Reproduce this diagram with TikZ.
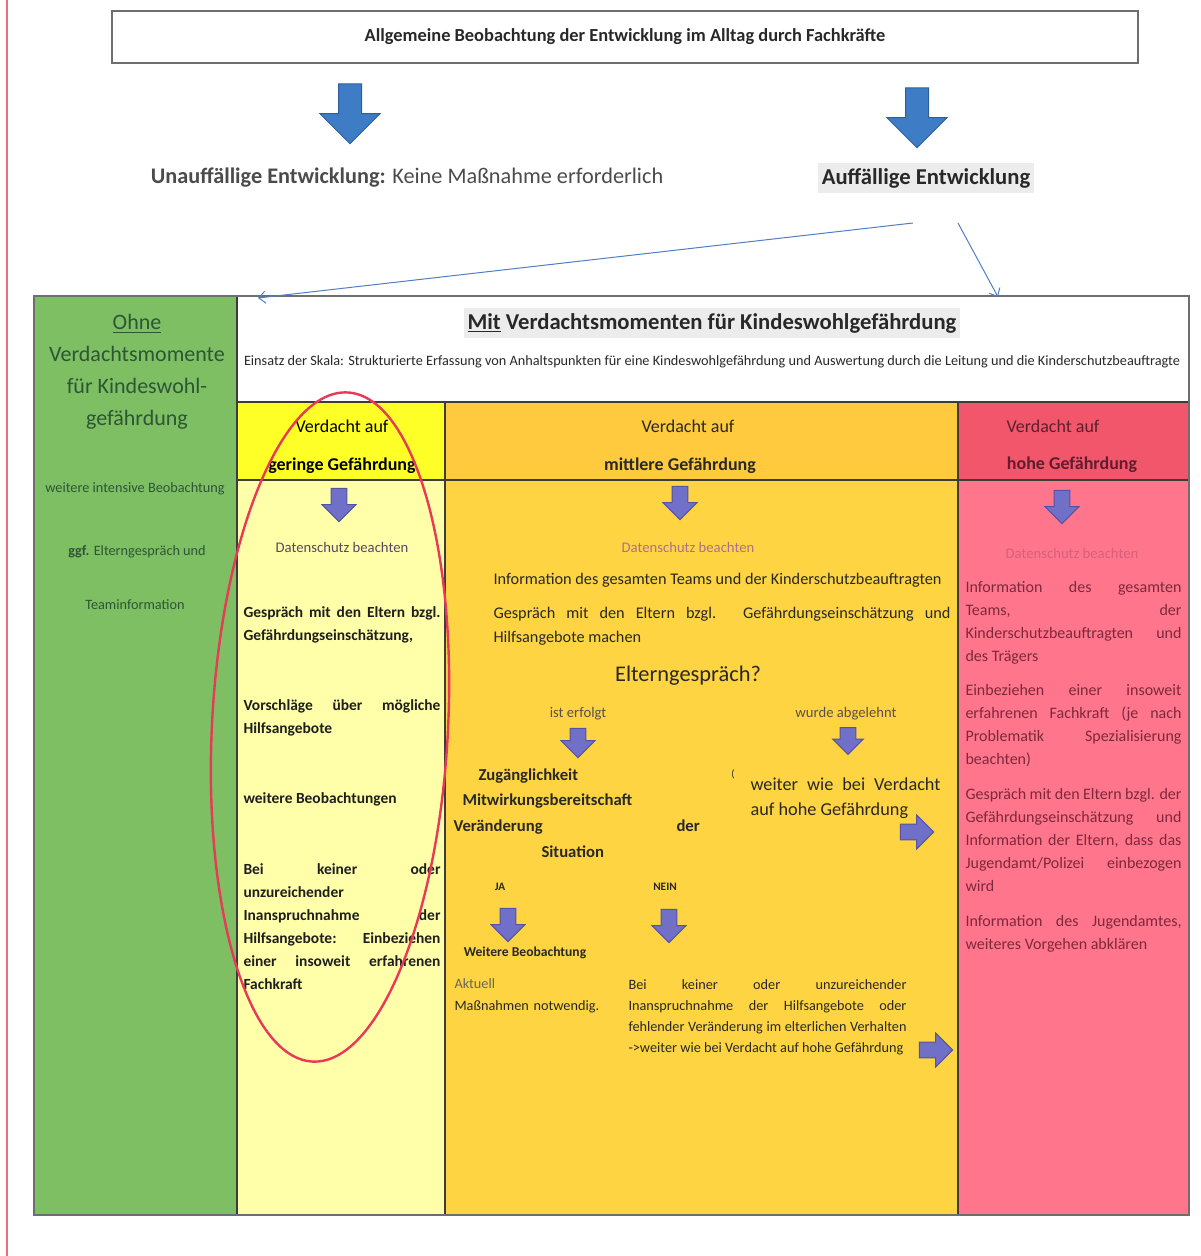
\documentclass[tikz,border=0pt]{standalone}
\usepackage{fontspec}
\setmainfont{Carlito}
\usetikzlibrary{shapes.arrows,arrows.meta}
\tolerance=9999
\hbadness=10000

\tikzset{every picture/.style={line width=0.75pt}}
\tikzset{
  bigarr/.style={single arrow, shape border rotate=270, inner sep=8.25pt, minimum height=45pt, single arrow head extend=14pt, draw={rgb, 255:red, 46; green, 94; blue, 160}, fill={rgb, 255:red, 62; green, 124; blue, 198}},
  purarr/.style={single arrow, inner sep=5.6pt, minimum height=25pt, single arrow head extend=6.75pt, draw={rgb, 255:red, 84; green, 84; blue, 160}, fill={rgb, 255:red, 112; green, 112; blue, 200}},
  purdown/.style={purarr, shape border rotate=270},
  thinarr/.style={-{Straight Barb[length=5pt,width=9pt]}, color={rgb, 255:red, 80; green, 125; blue, 195}},
  lbl/.style={inner sep=0pt, text={rgb, 255:red, 40; green, 40; blue, 40}},
  grntxt/.style={inner sep=0pt, text={rgb, 255:red, 45; green, 85; blue, 55}},
  redtxt/.style={anchor=base west, inner sep=0pt, text width=162pt, align=justify, text={rgb, 255:red, 125; green, 40; blue, 60}, font=\fontsize{12}{17.25}\selectfont},
  yeltxt/.style={anchor=base west, inner sep=0pt, text width=147.75pt, align=justify, text={rgb, 255:red, 30; green, 30; blue, 30}, font=\bfseries\fontsize{11.6}{17.25}\selectfont},
  orgtxt/.style={anchor=base west, inner sep=0pt, align=justify, text={rgb, 255:red, 40; green, 40; blue, 40}},
  hdtxt/.style={inner sep=0pt, font=\fontsize{13.5}{16}\selectfont},
  grid/.style={color={rgb, 255:red, 60; green, 60; blue, 60}, line width=0.9pt}
}

\begin{document}
\begin{tikzpicture}[x=0.75pt,y=0.75pt,yscale=-1,xscale=1]
\useasboundingbox (0,0) rectangle (1201,1256);

\draw [line width=1.5pt, color={rgb, 255:red, 240; green, 110; blue, 120}] (7,0) -- (7,1256) ;

\node (obs) [lbl, draw={rgb, 255:red, 110; green, 110; blue, 110}, line width=1.2pt, minimum width=769.5pt, minimum height=39pt, font=\bfseries\fontsize{13.8}{16}\selectfont] at (625,37) {Allgemeine Beobachtung der Entwicklung im Alltag durch Fachkräfte};

\node (ba1) [bigarr] at (350,108) {};
\node (ba2) [bigarr] at (917,112) {};

\node (unauff) [inner sep=0pt, text={rgb, 255:red, 75; green, 75; blue, 75}, font=\fontsize{16.7}{20}\selectfont] at (407,178) {\textbf{Unauffällige Entwicklung:} Keine Maßnahme erforderlich};
\node (auff) [lbl, fill={rgb, 255:red, 236; green, 236; blue, 236}, minimum height=22.5pt, inner xsep=2.5pt, font=\bfseries\fontsize{17}{20}\selectfont] at (926,178) {Auffällige Entwicklung};

\fill [fill={rgb, 255:red, 125; green, 191; blue, 98}] (34,296) rectangle (237,1215) ;
\fill [fill={rgb, 255:red, 255; green, 255; blue, 40}] (237,402) rectangle (445,480) ;
\fill [fill={rgb, 255:red, 255; green, 255; blue, 170}] (237,480) rectangle (445,1215) ;
\fill [fill={rgb, 255:red, 255; green, 202; blue, 62}] (445,402) rectangle (958,480) ;
\fill [fill={rgb, 255:red, 255; green, 212; blue, 66}] (445,480) rectangle (958,1215) ;
\fill [fill={rgb, 255:red, 242; green, 86; blue, 106}] (958,402) rectangle (1189,480) ;
\fill [fill={rgb, 255:red, 255; green, 118; blue, 140}] (958,480) rectangle (1189,1215) ;
\draw [grid] (237,296) -- (237,1215) (445,402) -- (445,1215) (958,402) -- (958,1215) ;
\draw [grid] (237,402) -- (1189,402) (237,480) -- (1189,480) ;
\draw [grid, color={rgb, 255:red, 110; green, 110; blue, 110}, line width=1.2pt] (34,296) rectangle (1189,1215) ;

\coordinate (s1) at (913,223);
\coordinate (e1) at (258,298);
\coordinate (s2) at (958,223);
\coordinate (e2) at (998,297);
\draw [thinarr] (s1) -- (e1) ;
\draw [thinarr] (s2) -- (e2) ;

\node (ohne) [grntxt, align=center, font=\fontsize{16.5}{24}\selectfont] at (137,372) {\underline{Ohne}\\Verdachtsmomente\\für Kindeswohl-\\gefährdung};
\node (gint) [grntxt, font=\fontsize{10.7}{12}\selectfont] at (135,489) {weitere intensive Beobachtung};
\node (gelt) [grntxt, font=\fontsize{10.7}{12}\selectfont] at (137,552) {\textbf{ggf.} Elterngespräch und};
\node (gteam) [grntxt, font=\fontsize{10.7}{12}\selectfont] at (135,605) {Teaminformation};

\node (mit) [lbl, fill={rgb, 255:red, 236; green, 236; blue, 236}, minimum height=22.5pt, inner xsep=2.5pt, font=\bfseries\fontsize{17}{20}\selectfont] at (712,323) {\underline{Mit} Verdachtsmomenten für Kindeswohlgefährdung};
\node (skala) [lbl, font=\fontsize{10.7}{12}\selectfont] at (712,362) {Einsatz der Skala: Strukturierte Erfassung von Anhaltspunkten für eine Kindeswohlgefährdung und Auswertung durch die Leitung und die Kinderschutzbeauftragte};

\node (yh1) [hdtxt, text=black] at (342,426) {Verdacht auf};
\node (yh2) [hdtxt, text=black, font=\bfseries\fontsize{13.5}{16}\selectfont] at (342,466) {geringe Gefährdung};
\node (oh1) [hdtxt, lbl] at (688,426) {Verdacht auf};
\node (oh2) [hdtxt, lbl, font=\bfseries\fontsize{13.5}{16}\selectfont] at (680,466) {mittlere Gefährdung};
\node (rh1) [hdtxt, text={rgb, 255:red, 95; green, 30; blue, 45}] at (1053,426) {Verdacht auf};
\node (rh2) [hdtxt, text={rgb, 255:red, 95; green, 30; blue, 45}, font=\bfseries\fontsize{13.5}{16}\selectfont] at (1072,465) {hohe Gefährdung};

\node (pa1) [purdown] at (339,501) {};
\node (pa2) [purdown] at (680,499) {};
\node (pa3) [purdown] at (1062,503) {};

\node (yds) [inner sep=0pt, text={rgb, 255:red, 90; green, 70; blue, 100}, font=\fontsize{11}{13}\selectfont] at (342,547) {Datenschutz beachten};
\node (ods) [inner sep=0pt, text={rgb, 255:red, 175; green, 110; blue, 145}, font=\fontsize{11}{13}\selectfont] at (688,547) {Datenschutz beachten};
\node (rds) [inner sep=0pt, text={rgb, 255:red, 215; green, 95; blue, 125}, font=\fontsize{11}{13}\selectfont] at (1072,553) {Datenschutz beachten};

\node (y1) [yeltxt] at (243,617) {Gespräch mit den Eltern bzgl.\linebreak Gefährdungseinschätzung,};
\node (y2) [yeltxt] at (243,710) {Vorschläge über mögliche\linebreak Hilfsangebote};
\node (y3) [yeltxt] at (243,803) {weitere Beobachtungen};
\node (y4) [yeltxt] at (243,874) {Bei keiner oder\linebreak unzureichender\linebreak Inanspruchnahme der\linebreak Hilfsangebote: Einbeziehen\linebreak einer insoweit erfahrenen\linebreak Fachkraft};

\node (o1) [orgtxt, font=\fontsize{12.2}{18}\selectfont] at (493,584) {Information des gesamten Teams und der Kinderschutzbeauftragten};
\node (o2) [orgtxt, text width=342.75pt, font=\fontsize{12.2}{18}\selectfont] at (493,618) {Gespräch mit den Eltern bzgl. Gefährdungseinschätzung und\linebreak Hilfsangebote machen};
\node (eg) [lbl, font=\fontsize{16.8}{20}\selectfont] at (688,676) {Elterngespräch?};
\node (erf) [lbl, text={rgb, 255:red, 90; green, 80; blue, 70}, font=\fontsize{11}{13}\selectfont] at (578,714) {ist erfolgt};
\node (abg) [lbl, text={rgb, 255:red, 90; green, 80; blue, 70}, font=\fontsize{11}{13}\selectfont] at (846,714) {wurde abgelehnt};
\node (pa4) [purdown, minimum height=22pt] at (578,739) {};
\node (pa5) [purdown, minimum height=20pt, single arrow head extend=5.5pt] at (848,737) {};

\node (zug) [orgtxt, font=\bfseries\fontsize{12.5}{15}\selectfont] at (478,780) {Zugänglichkeit};
\node (mitw) [orgtxt, font=\bfseries\fontsize{12.5}{15}\selectfont] at (462,805) {Mitwirkungsbereitschaft};
\node (ver) [orgtxt, font=\bfseries\fontsize{12.5}{15}\selectfont] at (453,831) {Veränderung};
\node (der) [orgtxt, font=\bfseries\fontsize{12.5}{15}\selectfont] at (676,831) {der};
\node (sit) [orgtxt, font=\bfseries\fontsize{12.5}{15}\selectfont] at (541,857) {Situation};
\node (klam) [lbl, font=\fontsize{8}{10}\selectfont] at (733,774) {(};
\node (wwv) [orgtxt, text width=142.5pt, font=\fontsize{13.7}{19}\selectfont] at (750,790) {weiter wie bei Verdacht\linebreak auf hohe Gefährdung};
\node (pa8) [purarr] at (913,832) {};

\node (ja) [lbl, font=\bfseries\fontsize{8.5}{10}\selectfont] at (500,887) {JA};
\node (nein) [lbl, font=\bfseries\fontsize{8.5}{10}\selectfont] at (665,887) {NEIN};
\node (pa6) [purdown] at (508,921) {};
\node (pa7) [purdown] at (669,922) {};
\node (wb) [lbl, font=\bfseries\fontsize{10.2}{12}\selectfont] at (525,953) {Weitere Beobachtung};
\node (akt) [orgtxt, text width=150pt, align=left, font=\fontsize{10.7}{16.5}\selectfont] at (454,988) {\textcolor[RGB]{110,100,90}{Aktuell}\\Maßnahmen notwendig.};
\node (bk) [orgtxt, text width=208.5pt, font=\fontsize{10.7}{15.75}\selectfont] at (628,989) {Bei keiner oder unzureichender\linebreak Inanspruchnahme der Hilfsangebote oder\linebreak fehlender Veränderung im elterlichen Verhalten\linebreak -{}>weiter wie bei Verdacht auf hohe Gefährdung};
\node (pa9) [purarr] at (932,1050) {};

\node (r1) [redtxt] at (965,592) {Information des gesamten\linebreak Teams, der\linebreak Kinderschutzbeauftragten und\linebreak des Trägers};
\node (r2) [redtxt] at (965,695) {Einbeziehen einer insoweit\linebreak erfahrenen Fachkraft (je nach\linebreak Problematik Spezialisierung\linebreak beachten)};
\node (r3) [redtxt] at (965,799) {Gespräch mit den Eltern bzgl. der\linebreak Gefährdungseinschätzung und\linebreak Information der Eltern, dass das\linebreak Jugendamt/Polizei einbezogen\linebreak wird};
\node (r4) [redtxt] at (965,926) {Information des Jugendamtes,\linebreak weiteres Vorgehen abklären};

\draw [color={rgb, 255:red, 232; green, 58; blue, 88}, line width=1.8pt, rotate around={3:(330,727)}] (330,727) ellipse [x radius=118, y radius=335] ;

\end{tikzpicture}
\end{document}
